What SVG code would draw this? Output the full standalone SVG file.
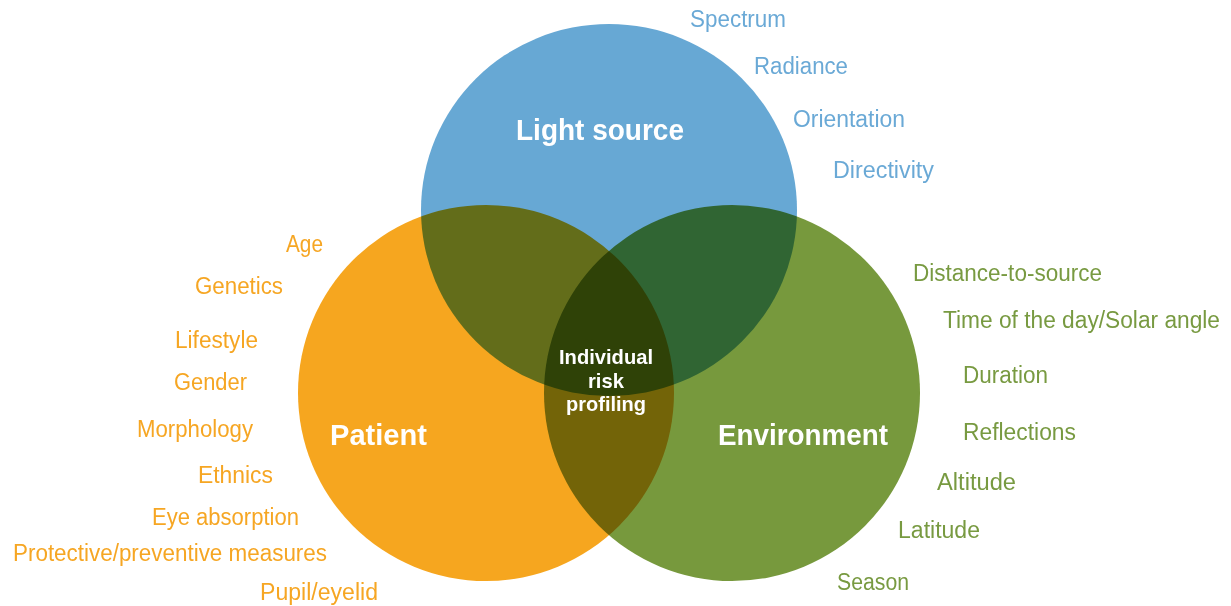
<svg xmlns="http://www.w3.org/2000/svg" width="1231" height="606" viewBox="0 0 1231 606">
  <style>
    .c { mix-blend-mode: multiply; }
    .lbl { font-family: "Liberation Sans", Arial, sans-serif; font-size: 23.5px; }
    .blue { fill: #6AA9D6; }
    .org { fill: #F6A623; }
    .grn { fill: #789A41; }
    .title { font-family: "Liberation Sans", Arial, sans-serif; font-weight: bold; font-size: 29px; fill: #ffffff; }
    .center { font-family: "Liberation Sans", Arial, sans-serif; font-weight: bold; font-size: 21px; fill: #ffffff; }
  </style>
  <rect x="0" y="0" width="1231" height="606" fill="#ffffff"/>
  <g id="circles" style="isolation:isolate">
    <ellipse id="light-source-circle" class="c" cx="609" cy="210" rx="188" ry="186" fill="#67A8D4"/>
    <circle id="patient-circle" class="c" cx="486" cy="393" r="188" fill="#F6A61F"/>
    <circle id="environment-circle" class="c" cx="732" cy="393" r="188" fill="#77993D"/>
  </g>
  <g id="light-source">
    <text class="title" x="600" y="140" text-anchor="middle" textLength="168" lengthAdjust="spacingAndGlyphs">Light source</text>
    <text class="lbl blue" x="690" y="27" textLength="96" lengthAdjust="spacingAndGlyphs">Spectrum</text>
    <text class="lbl blue" x="754" y="74" textLength="94" lengthAdjust="spacingAndGlyphs">Radiance</text>
    <text class="lbl blue" x="793" y="127" textLength="112" lengthAdjust="spacingAndGlyphs">Orientation</text>
    <text class="lbl blue" x="833" y="178" textLength="101" lengthAdjust="spacingAndGlyphs">Directivity</text>
  </g>
  <g id="patient">
    <text class="title" x="330" y="445" textLength="97" lengthAdjust="spacingAndGlyphs">Patient</text>
    <text class="lbl org" x="286" y="252" textLength="37" lengthAdjust="spacingAndGlyphs">Age</text>
    <text class="lbl org" x="195" y="294" textLength="88" lengthAdjust="spacingAndGlyphs">Genetics</text>
    <text class="lbl org" x="175" y="348" textLength="83" lengthAdjust="spacingAndGlyphs">Lifestyle</text>
    <text class="lbl org" x="174" y="390" textLength="73" lengthAdjust="spacingAndGlyphs">Gender</text>
    <text class="lbl org" x="137" y="437" textLength="116" lengthAdjust="spacingAndGlyphs">Morphology</text>
    <text class="lbl org" x="198" y="483" textLength="75" lengthAdjust="spacingAndGlyphs">Ethnics</text>
    <text class="lbl org" x="152" y="525" textLength="147" lengthAdjust="spacingAndGlyphs">Eye absorption</text>
    <text class="lbl org" x="13" y="561" textLength="314" lengthAdjust="spacingAndGlyphs">Protective/preventive measures</text>
    <text class="lbl org" x="260" y="600" textLength="118" lengthAdjust="spacingAndGlyphs">Pupil/eyelid</text>
  </g>
  <g id="environment">
    <text class="title" x="718" y="445" textLength="170" lengthAdjust="spacingAndGlyphs">Environment</text>
    <text class="lbl grn" x="913" y="281" textLength="189" lengthAdjust="spacingAndGlyphs">Distance-to-source</text>
    <text class="lbl grn" x="943" y="328" textLength="277" lengthAdjust="spacingAndGlyphs">Time of the day/Solar angle</text>
    <text class="lbl grn" x="963" y="383" textLength="85" lengthAdjust="spacingAndGlyphs">Duration</text>
    <text class="lbl grn" x="963" y="440" textLength="113" lengthAdjust="spacingAndGlyphs">Reflections</text>
    <text class="lbl grn" x="937" y="490" textLength="79" lengthAdjust="spacingAndGlyphs">Altitude</text>
    <text class="lbl grn" x="898" y="538" textLength="82" lengthAdjust="spacingAndGlyphs">Latitude</text>
    <text class="lbl grn" x="837" y="590" textLength="72" lengthAdjust="spacingAndGlyphs">Season</text>
  </g>
  <g id="individual-risk-profiling">
    <text class="center" x="606" y="364" text-anchor="middle" textLength="94" lengthAdjust="spacingAndGlyphs">Individual</text>
    <text class="center" x="606" y="388" text-anchor="middle" textLength="36" lengthAdjust="spacingAndGlyphs">risk</text>
    <text class="center" x="606" y="411" text-anchor="middle" textLength="80" lengthAdjust="spacingAndGlyphs">profiling</text>
  </g>
  <g id="connectors"></g>
</svg>
